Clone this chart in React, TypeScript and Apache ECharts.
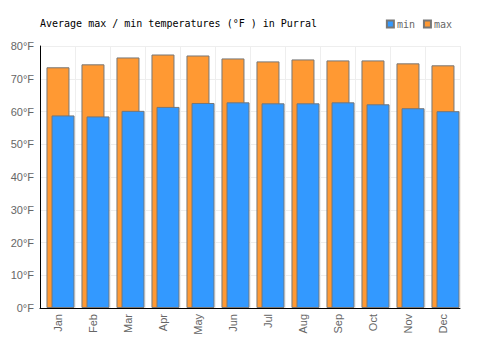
import React, { useEffect, useRef } from "react";
import * as echarts from "echarts";

const months = ["Jan", "Feb", "Mar", "Apr", "May", "Jun", "Jul", "Aug", "Sep", "Oct", "Nov", "Dec"];
const maxTemps = [73.5, 74.4, 76.5, 77.4, 77.1, 76.2, 75.3, 75.9, 75.6, 75.6, 74.7, 74.1];
const minTemps = [58.8, 58.5, 60.2, 61.4, 62.6, 62.8, 62.5, 62.5, 62.8, 62.2, 61.0, 60.1];
const titleText = "Average max / min temperatures (°F ) in Purral";

export default function App() {
  const ref = useRef<HTMLDivElement>(null);
  useEffect(() => {
    document.body.style.margin = "0";
    if (!ref.current) return;
    const chart = echarts.init(ref.current, null, { renderer: "svg" });
    const mono = "DejaVu Sans Mono";
    chart.setOption({
      animation: false,
      backgroundColor: "#fff",
      title: {
        text: titleText,
        left: 40,
        top: 18,
        padding: 0,
        textStyle: { fontFamily: mono, fontSize: 10, fontWeight: "normal", color: "#000" },
      },
      legend: {
        data: ["min", "max"],
        right: 48,
        top: 19,
        padding: 0,
        itemWidth: 7,
        itemHeight: 7,
        itemGap: 8,
        icon: "rect",
        textStyle: { fontFamily: mono, fontSize: 10, color: "#666", padding: [0, 0, 0, -2] },
      },
      grid: [
        { left: 40, right: 40, top: 46, bottom: 42 },
        { left: 43, right: 37, top: 46, bottom: 42 },
      ],
      xAxis: [
        {
          type: "category",
          gridIndex: 0,
          data: months,
          axisLine: { lineStyle: { color: "#000" } },
          axisTick: { show: false },
          axisLabel: { rotate: 90, fontFamily: "Liberation Sans", fontSize: 11, color: "#666", margin: 6 },
          splitLine: { show: true, interval: 0, lineStyle: { color: "#eee" } },
        },
        {
          type: "category",
          gridIndex: 1,
          data: months,
          show: false,
        },
      ],
      yAxis: [
        {
          type: "value",
          gridIndex: 0,
          min: 0,
          max: 80,
          interval: 10,
          axisLine: { show: true, lineStyle: { color: "#000" } },
          axisTick: { show: false },
          axisLabel: { formatter: "{value}°F", fontFamily: "Liberation Sans", fontSize: 11, color: "#666", margin: 6 },
          splitLine: { show: true, lineStyle: { color: "#eee" } },
        },
        {
          type: "value",
          gridIndex: 1,
          min: 0,
          max: 80,
          interval: 10,
          show: false,
          splitLine: { show: false },
        },
      ],
      series: [
        {
          name: "max",
          type: "bar",
          xAxisIndex: 1,
          yAxisIndex: 1,
          data: maxTemps,
          barWidth: 23,
          barGap: "-78%",
          itemStyle: { color: "#ff9933", borderColor: "#777", borderWidth: 1 },
        },
        {
          name: "min",
          type: "bar",
          xAxisIndex: 1,
          yAxisIndex: 1,
          data: minTemps,
          barWidth: 23,
          barGap: "-78%",
          itemStyle: { color: "#3399ff", borderColor: "#777", borderWidth: 1 },
        },
      ],
    });
    return () => chart.dispose();
  }, []);
  return <div ref={ref} style={{ width: 500, height: 350 }} />;
}
